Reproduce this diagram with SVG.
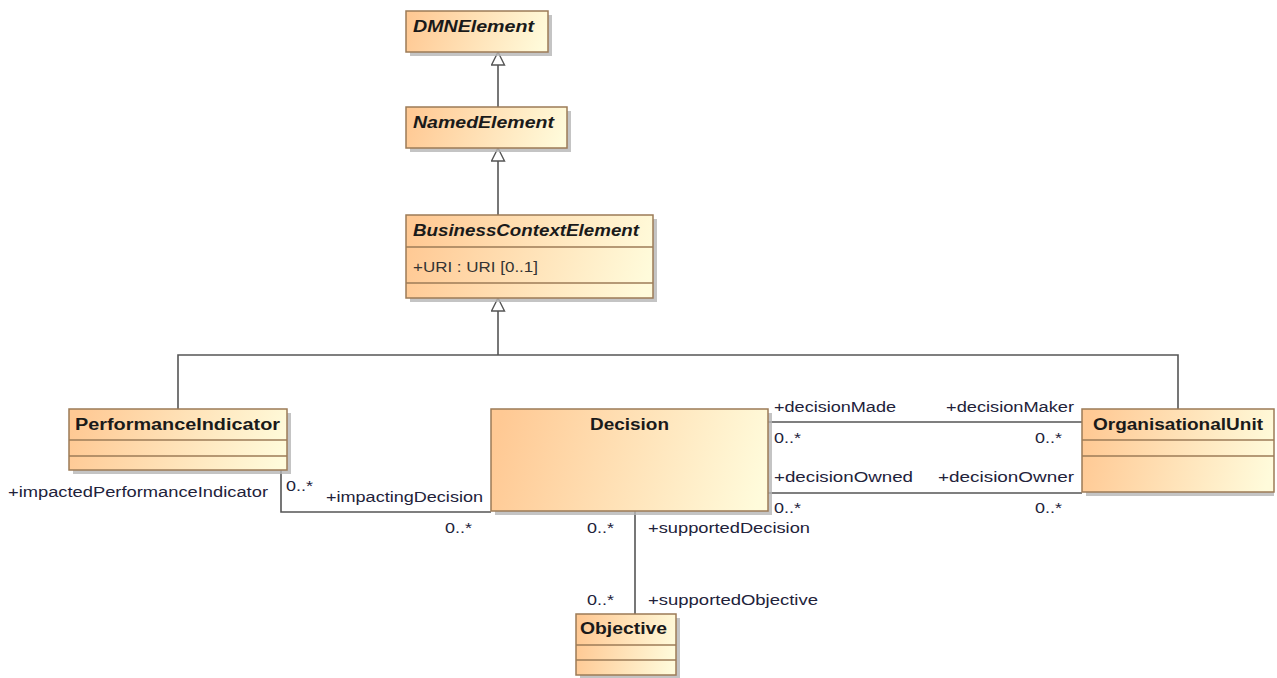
<svg xmlns="http://www.w3.org/2000/svg" width="1277" height="678" viewBox="0 0 1277 678">
<defs>
<linearGradient id="fill" x1="0" y1="0.45" x2="1" y2="0.55">
<stop offset="0" stop-color="#FFC994"/>
<stop offset="1" stop-color="#FFFBDB"/>
</linearGradient>
<marker id="gen" markerWidth="18" markerHeight="16" refX="15" refY="7.5" orient="auto" markerUnits="userSpaceOnUse">
<path d="M15,7.5 L2,1 L2,14 Z" fill="#fff" stroke="#555" stroke-width="1.4"/>
</marker>
</defs>
<style>
.box{fill:url(#fill);stroke:#9C7B57;stroke-width:1.5}
.shadow{fill:#b5b5b5;opacity:0.8}
.div{stroke:#9C7B57;stroke-width:1.3}
.cn{font-family:"Liberation Sans",Arial,sans-serif;font-size:16px;font-weight:bold;fill:#1a1a1a}
.ab{font-style:italic}
.lb{font-family:"Liberation Sans",Arial,sans-serif;font-size:15.5px;fill:#22223a}
.ln{fill:none;stroke:#555;stroke-width:1.6}
</style>
<rect width="1277" height="678" fill="#fff"/>

<g id="connectors">
<path class="ln" d="M498,107 V52" marker-end="url(#gen)"/>
<path class="ln" d="M498,215 V148" marker-end="url(#gen)"/>
<path class="ln" d="M178,409 V355 H1178 V409"/>
<path class="ln" d="M498,355 V298" marker-end="url(#gen)"/>
<path class="ln" d="M281,470 V512 H491"/>
<path class="ln" d="M635,511 V614"/>
<path class="ln" d="M768,422 H1082"/>
<path class="ln" d="M768,493 H1082"/>
<text class="lb" x="8" y="497" textLength="260" lengthAdjust="spacingAndGlyphs">+impactedPerformanceIndicator</text>
<text class="lb" x="286" y="491" textLength="27" lengthAdjust="spacingAndGlyphs">0..*</text>
<text class="lb" x="326" y="502" textLength="157" lengthAdjust="spacingAndGlyphs">+impactingDecision</text>
<text class="lb" x="445" y="533" textLength="27" lengthAdjust="spacingAndGlyphs">0..*</text>
<text class="lb" x="587" y="533" textLength="27" lengthAdjust="spacingAndGlyphs">0..*</text>
<text class="lb" x="648" y="533" textLength="162" lengthAdjust="spacingAndGlyphs">+supportedDecision</text>
<text class="lb" x="587" y="605" textLength="27" lengthAdjust="spacingAndGlyphs">0..*</text>
<text class="lb" x="648" y="605" textLength="170" lengthAdjust="spacingAndGlyphs">+supportedObjective</text>
<text class="lb" x="774" y="412" textLength="122" lengthAdjust="spacingAndGlyphs">+decisionMade</text>
<text class="lb" x="946" y="412" textLength="128" lengthAdjust="spacingAndGlyphs">+decisionMaker</text>
<text class="lb" x="774" y="443" textLength="27" lengthAdjust="spacingAndGlyphs">0..*</text>
<text class="lb" x="1035" y="443" textLength="27" lengthAdjust="spacingAndGlyphs">0..*</text>
<text class="lb" x="774" y="482" textLength="139" lengthAdjust="spacingAndGlyphs">+decisionOwned</text>
<text class="lb" x="938" y="482" textLength="136" lengthAdjust="spacingAndGlyphs">+decisionOwner</text>
<text class="lb" x="774" y="513" textLength="27" lengthAdjust="spacingAndGlyphs">0..*</text>
<text class="lb" x="1035" y="513" textLength="27" lengthAdjust="spacingAndGlyphs">0..*</text>
</g>

<g id="DMNElement">
<rect class="shadow" x="410" y="15" width="142" height="41"/>
<rect class="box" x="406" y="11" width="142" height="41"/>
<text class="cn ab" x="413" y="32" textLength="121" lengthAdjust="spacingAndGlyphs">DMNElement</text>
</g>

<g id="NamedElement">
<rect class="shadow" x="410" y="111" width="161" height="41"/>
<rect class="box" x="406" y="107" width="161" height="41"/>
<text class="cn ab" x="413" y="128" textLength="141" lengthAdjust="spacingAndGlyphs">NamedElement</text>
</g>

<g id="BusinessContextElement">
<rect class="shadow" x="410" y="219" width="247" height="83"/>
<rect class="box" x="406" y="215" width="247" height="83"/>
<line class="div" x1="406" y1="247" x2="653" y2="247"/>
<line class="div" x1="406" y1="283" x2="653" y2="283"/>
<text class="cn ab" x="413" y="236" textLength="226" lengthAdjust="spacingAndGlyphs">BusinessContextElement</text>
<text class="lb" x="413" y="272" textLength="125" lengthAdjust="spacingAndGlyphs" style="fill:#333">+URI : URI [0..1]</text>
</g>

<g id="PerformanceIndicator">
<rect class="shadow" x="73" y="413" width="218" height="61"/>
<rect class="box" x="69" y="409" width="218" height="61"/>
<line class="div" x1="69" y1="440" x2="287" y2="440"/>
<line class="div" x1="69" y1="456" x2="287" y2="456"/>
<text class="cn" x="75" y="430" textLength="205" lengthAdjust="spacingAndGlyphs">PerformanceIndicator</text>
</g>

<g id="Decision">
<rect class="shadow" x="495" y="413" width="277" height="102"/>
<rect class="box" x="491" y="409" width="277" height="102"/>
<text class="cn" x="590" y="430" textLength="79" lengthAdjust="spacingAndGlyphs">Decision</text>
</g>

<g id="OrganisationalUnit">
<rect class="shadow" x="1086" y="413" width="188" height="83"/>
<rect class="box" x="1082" y="409" width="192" height="83"/>
<line class="div" x1="1082" y1="440" x2="1274" y2="440"/>
<line class="div" x1="1082" y1="456" x2="1274" y2="456"/>
<text class="cn" x="1093" y="430" textLength="170" lengthAdjust="spacingAndGlyphs">OrganisationalUnit</text>
</g>

<g id="Objective">
<rect class="shadow" x="580" y="618" width="100" height="60"/>
<rect class="box" x="576" y="614" width="100" height="61"/>
<line class="div" x1="576" y1="645" x2="676" y2="645"/>
<line class="div" x1="576" y1="660" x2="676" y2="660"/>
<text class="cn" x="580" y="634" textLength="87" lengthAdjust="spacingAndGlyphs">Objective</text>
</g>
</svg>
